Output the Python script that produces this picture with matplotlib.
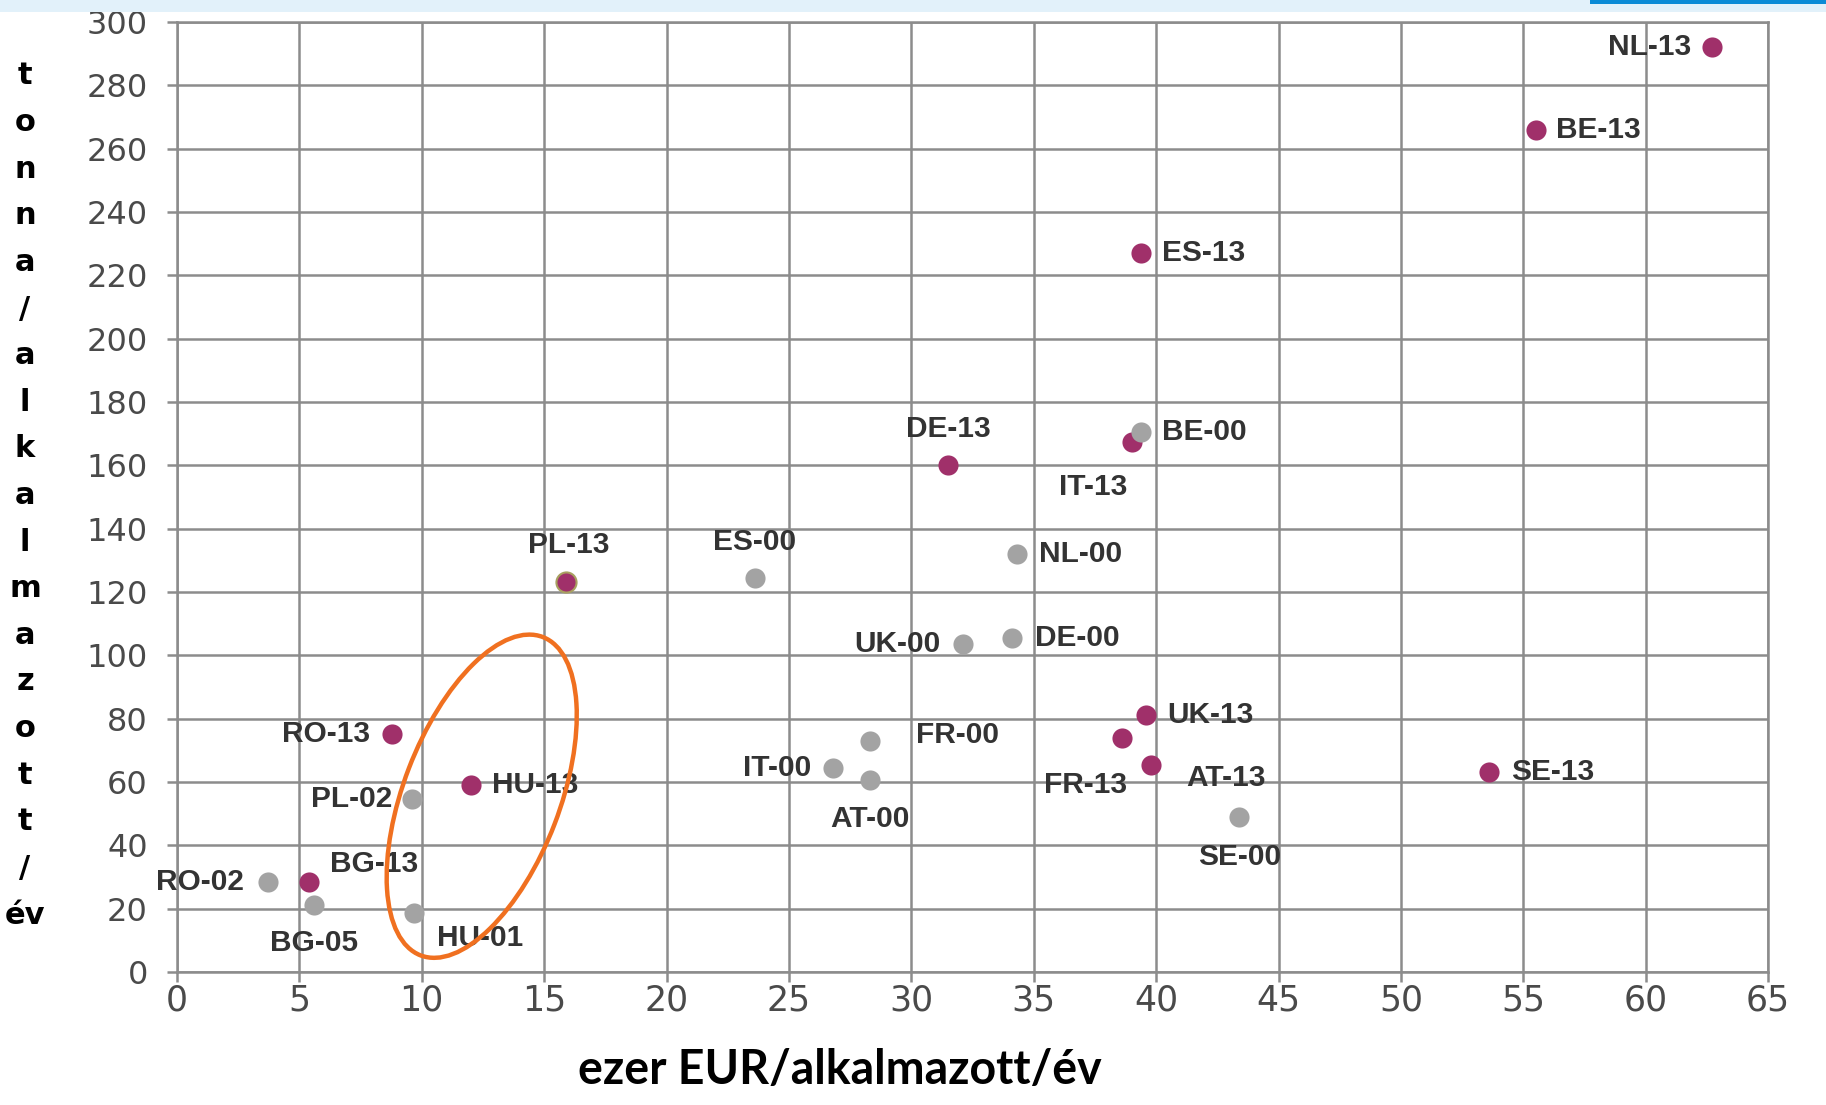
import numpy as np
import matplotlib.pyplot as plt
from matplotlib.patches import Ellipse, Rectangle
from matplotlib.transforms import ScaledTranslation

# 2013 points (purple)
labels_13 = ['NL-13', 'BE-13', 'ES-13', 'IT-13', 'DE-13', 'PL-13', 'UK-13',
             'FR-13', 'AT-13', 'SE-13', 'RO-13', 'HU-13', 'BG-13']
x_13 = [62.7, 55.5, 39.4, 39.0, 31.5, 15.9, 39.6, 38.6, 39.8, 53.6, 8.8, 12.0, 5.4]
y_13 = [292, 266, 227, 167.5, 160, 123, 81, 74, 65.5, 63, 75, 59, 28.5]

# earlier years (grey)
labels_00 = ['BE-00', 'NL-00', 'ES-00', 'UK-00', 'DE-00', 'FR-00', 'IT-00',
             'AT-00', 'SE-00', 'PL-02', 'RO-02', 'BG-05', 'HU-01']
x_00 = [39.4, 34.3, 23.6, 32.1, 34.1, 28.3, 26.8, 28.3, 43.4, 9.6, 3.7, 5.6, 9.7]
y_00 = [170.5, 132, 124.5, 103.5, 105.5, 73, 64.5, 60.5, 49, 54.5, 28.5, 21, 18.5]

x_ticks = list(range(0, 70, 5))
y_ticks = list(range(0, 320, 20))
x_title = 'ezer EUR/alkalmazott/év'
y_title = ['t', 'o', 'n', 'n', 'a', '/', 'a', 'l', 'k', 'a', 'l', 'm', 'a',
           'z', 'o', 't', 't', '/', 'év']

# label placement: (dx pt, dy pt, ha)
label_pos = {
    'NL-13': (-15, 0, 'right'), 'BE-13': (15, 0, 'left'), 'ES-13': (15, 0, 'left'),
    'IT-13': (-28, -33, 'center'), 'DE-13': (0, 26, 'center'), 'PL-13': (2, 27, 'center'),
    'UK-13': (15, 0, 'left'), 'FR-13': (-26, -34, 'center'), 'AT-13': (54, -10, 'center'),
    'SE-13': (16, 0, 'left'), 'RO-13': (-16, 0, 'right'), 'HU-13': (15, 0, 'left'),
    'BG-13': (15, 13, 'left'),
    'BE-00': (15, 0, 'left'), 'NL-00': (16, 0, 'left'), 'ES-00': (0, 26, 'center'),
    'UK-00': (-16, 0, 'right'), 'DE-00': (17, 0, 'left'), 'FR-00': (33, 4, 'left'),
    'IT-00': (-16, 0, 'right'), 'AT-00': (0, -28, 'center'), 'SE-00': (0, -29, 'center'),
    'PL-02': (-14, 0, 'right'), 'RO-02': (-17, 0, 'right'), 'BG-05': (0, -27, 'center'),
    'HU-01': (16, -18, 'left'),
}

purple = '#a0306a'
grey = '#a3a3a3'
gridc = '#8c8c8c'

fig = plt.figure(figsize=(18.26, 11.05), dpi=100)
ax = fig.add_axes([0.0969, 0.1204, 0.8714, 0.8597])

ax.scatter(x_13, y_13, s=210, color=purple, zorder=3, linewidths=0)
# PL-13 has a faint olive rim in the original
i = labels_13.index('PL-13')
ax.scatter([x_13[i]], [y_13[i]], s=210, color=purple, edgecolors='#a8a060',
           linewidths=1.5, zorder=3)
ax.scatter(x_00, y_00, s=210, color=grey, zorder=4, linewidths=0)

for lab, x, y in zip(labels_13 + labels_00, x_13 + x_00, y_13 + y_00):
    dx, dy, ha = label_pos[lab]
    ax.annotate(lab, (x, y), xytext=(dx, dy), textcoords='offset points',
                ha=ha, va='center', fontsize=21.5, fontweight='bold',
                family='Liberation Sans', color='#333333', zorder=5)

ax.set_xlim(0, 65)
ax.set_ylim(0, 300)
ax.set_xticks(x_ticks)
ax.set_yticks(y_ticks)
ax.grid(True, color=gridc, lw=1.8)
ax.set_axisbelow(True)
for sp in ax.spines.values():
    sp.set_color(gridc)
    sp.set_linewidth(1.8)
ax.tick_params(axis='both', length=7, width=1.8, color=gridc, labelcolor='#4a4a4a')
ax.tick_params(axis='y', labelsize=23, pad=14)
ax.tick_params(axis='x', labelsize=25, pad=1)

# orange ellipse around HU
ell = Ellipse((0, 0), 3.41, 1.56, angle=69, fill=False, edgecolor='#f07020', lw=3.2,
              transform=fig.dpi_scale_trans + ScaledTranslation(12.45, 55.5, ax.transData),
              zorder=6)
ax.add_patch(ell)

fig.text(840 / 1826, 1 - 1070 / 1105, x_title, ha='center', va='center',
         fontsize=33.5, fontweight='bold', family='Lato', color='black')

top, step = 76, (915 - 76) / (len(y_title) - 1)
for k, ch in enumerate(y_title):
    fig.text(25 / 1826, 1 - (top + k * step) / 1105, ch, ha='center', va='center',
             fontsize=22, fontweight='bold', family='DejaVu Sans', color='black')

# light blue strip at the top of the slide
fig.add_artist(Rectangle((0, 1 - 12 / 1105), 1, 12 / 1105, transform=fig.transFigure,
                         color='#e2f1fa', lw=0))
fig.add_artist(Rectangle((1590 / 1826, 1 - 4 / 1105), 1 - 1590 / 1826, 4 / 1105,
                         transform=fig.transFigure, color='#0b8bd6', lw=0))

fig.savefig('out.png', dpi=100)
